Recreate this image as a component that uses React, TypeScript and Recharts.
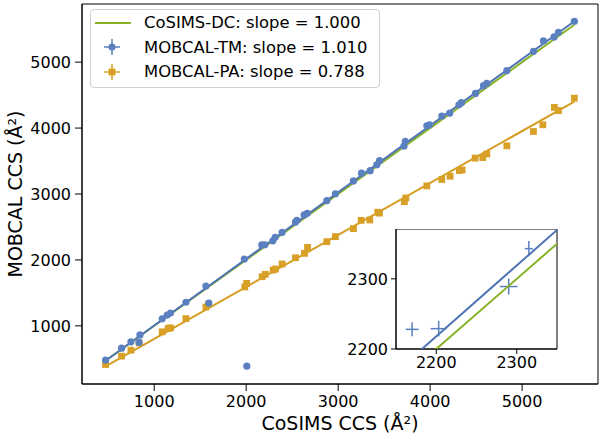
import { ScatterChart, Scatter, XAxis, YAxis, ReferenceArea, ErrorBar } from 'recharts';

// MOBCAL-TM (blue circles)
const tmX = [471, 645, 747, 835, 845, 1087, 1141, 1177, 1345, 1562, 1594, 1980, 2007, 2170, 2203, 2290, 2315, 2391, 2536, 2551, 2630, 2665, 2877, 2970, 3166, 3254, 3348, 3420, 3450, 3715, 3730, 3964, 3993, 4127, 4213, 4313, 4340, 4493, 4580, 4616, 4834, 5123, 5232, 5348, 5395, 5568];
const tmY = [479, 661, 757, 748, 863, 1106, 1163, 1195, 1358, 1603, 1345, 2014, 388, 2228, 2229, 2289, 2343, 2419, 2575, 2600, 2682, 2708, 2900, 3004, 3199, 3316, 3354, 3442, 3505, 3725, 3800, 4035, 4050, 4182, 4228, 4352, 4385, 4526, 4643, 4680, 4871, 5164, 5322, 5383, 5453, 5620];

// MOBCAL-PA (orange squares)
const paX = [471, 645, 747, 835, 1087, 1152, 1177, 1345, 1562, 1590, 1985, 2005, 2174, 2207, 2293, 2318, 2391, 2536, 2634, 2667, 2877, 2970, 3166, 3250, 3344, 3430, 3449, 3720, 3736, 3964, 4127, 4217, 4318, 4348, 4489, 4572, 4616, 4834, 5123, 5225, 5351, 5395, 5568];
const paY = [413, 540, 631, 742, 909, 960, 970, 1110, 1284, 1325, 1590, 1644, 1745, 1781, 1846, 1862, 1938, 2033, 2100, 2191, 2277, 2353, 2475, 2600, 2606, 2723, 2710, 2884, 2940, 3123, 3220, 3270, 3356, 3366, 3544, 3553, 3607, 3731, 3948, 4050, 4313, 4265, 4453];

// fitted lines (end points)
const dcLineX = [471, 5568];
const dcLineY = [471, 5568];
const tmLineX = [471, 5568];
const tmLineY = [471, 5621];
const paLineX = [471, 5568];
const paLineY = [386, 4403];

// error bars of the points shown in the inset
const insetXErr = [8, 10, 11, 5];
const insetYErr = [10, 11, 11.5, 11];

const mainTicks = [1000, 2000, 3000, 4000, 5000];
const insetTicks = [2200, 2300];

const GREEN = '#86b224';
const BLUE = '#5b80c0';
const BLUE_LINE = '#4f74b5';
const ORANGE = '#d8a027';
const ORANGE_LINE = '#d59d22';
const FONT = 'DejaVu Sans, sans-serif';

const zip = (xs: number[], ys: number[]) => xs.map((x, i) => ({ x, y: ys[i] }));

const tmData = zip(tmX, tmY);
const paData = zip(paX, paY);
const dcLine = zip(dcLineX, dcLineY);
const tmLine = zip(tmLineX, tmLineY);
const paLine = zip(paLineX, paLineY);

const insetData = tmData
  .filter((p) => p.x > 2150 && p.x < 2350 && p.y > 2200 && p.y < 2371)
  .map((p, i) => ({ ...p, ex: insetXErr[i], ey: insetYErr[i] }));

const noShape = () => <g />;

const Square = (props: any) => {
  const { cx, cy } = props;
  return <rect x={cx - 3.4} y={cy - 3.4} width={6.8} height={6.8} fill={ORANGE} />;
};

const Dot = (props: any) => {
  const { cx, cy } = props;
  return <circle cx={cx} cy={cy} r={3.6} fill={BLUE} />;
};

const tickStyle = { fontSize: 16, fill: '#000', fontFamily: FONT };

function LegendBox() {
  const row = { display: 'flex', alignItems: 'center', height: 24.5 };
  const icon = (kind: 'line' | 'dot' | 'sq') => (
    <svg width={53} height={24} style={{ flex: 'none' }}>
      {kind === 'line' && <line x1={4} x2={40} y1={12} y2={12} stroke={GREEN} strokeWidth={2} />}
      {kind !== 'line' && (
        <g stroke={kind === 'dot' ? BLUE : ORANGE} strokeWidth={1.5}>
          <line x1={13} x2={29} y1={12} y2={12} />
          <line x1={21} x2={21} y1={4} y2={20} />
        </g>
      )}
      {kind === 'dot' && <circle cx={21} cy={12} r={3.6} fill={BLUE} />}
      {kind === 'sq' && <rect x={17.6} y={8.6} width={6.8} height={6.8} fill={ORANGE} />}
    </svg>
  );
  return (
    <div
      style={{
        position: 'absolute',
        left: 90,
        top: 9,
        width: 290,
        height: 79,
        border: '1px solid #d0d0d0',
        borderRadius: 4,
        background: 'rgba(255,255,255,0.8)',
        fontFamily: FONT,
        fontSize: 16.4,
        color: '#000',
        boxSizing: 'border-box',
        paddingTop: 0.5,
        whiteSpace: 'nowrap',
      }}
    >
      <div style={row}>{icon('line')}<span>CoSIMS-DC: slope = 1.000</span></div>
      <div style={row}>{icon('dot')}<span>MOBCAL-TM: slope = 1.010</span></div>
      <div style={row}>{icon('sq')}<span>MOBCAL-PA: slope = 0.788</span></div>
    </div>
  );
}

export default function App() {
  return (
    <div style={{ position: 'absolute', left: 0, top: 0, width: 600, height: 437, background: '#fff' }}>
      <ScatterChart width={600} height={437} margin={{ top: 4, right: 2, bottom: 0, left: 0 }}>
        <XAxis
          type="number"
          dataKey="x"
          domain={[215, 5825]}
          allowDataOverflow
          ticks={mainTicks}
          height={53}
          tick={tickStyle}
          tickSize={7}
          tickMargin={5}
          stroke="#000"
          label={{ value: 'CoSIMS CCS (Å²)', position: 'insideBottom', offset: 7, style: { fontSize: 19, fill: '#000', fontFamily: FONT } }}
        />
        <YAxis
          type="number"
          dataKey="y"
          domain={[118, 5882]}
          allowDataOverflow
          ticks={mainTicks}
          width={82}
          tick={tickStyle}
          tickSize={7}
          tickMargin={4}
          stroke="#000"
          label={{ value: 'MOBCAL CCS (Å²)', angle: -90, position: 'insideLeft', offset: 15, style: { fontSize: 19, fill: '#000', fontFamily: FONT, textAnchor: 'middle' } }}
        />
        <ReferenceArea x1={215} x2={5825} y1={118} y2={5882} fill="none" stroke="#000" strokeWidth={1} />
        <Scatter data={dcLine} line={{ stroke: GREEN, strokeWidth: 2 }} shape={noShape} isAnimationActive={false} legendType="none" />
        <Scatter data={tmLine} line={{ stroke: BLUE_LINE, strokeWidth: 2 }} shape={noShape} isAnimationActive={false} legendType="none" />
        <Scatter data={paLine} line={{ stroke: ORANGE_LINE, strokeWidth: 2 }} shape={noShape} isAnimationActive={false} legendType="none" />
        <Scatter data={paData} shape={Square} isAnimationActive={false} />
        <Scatter data={tmData} shape={Dot} isAnimationActive={false} />
      </ScatterChart>

      <div style={{ position: 'absolute', left: 346, top: 229 }}>
        <ScatterChart width={212} height={150} margin={{ top: 0, right: 1, bottom: 0, left: 0 }}>
          <XAxis
            type="number"
            dataKey="x"
            domain={[2150, 2350]}
            allowDataOverflow
            ticks={insetTicks}
            height={30}
            tick={tickStyle}
            tickSize={5}
            tickMargin={3}
            stroke="#000"
          />
          <YAxis
            type="number"
            dataKey="y"
            domain={[2200, 2371]}
            allowDataOverflow
            ticks={insetTicks}
            width={50}
            tick={tickStyle}
            tickSize={5}
            tickMargin={3}
            stroke="#000"
          />
          <ReferenceArea x1={2150} x2={2350} y1={2200} y2={2371} fill="#fff" fillOpacity={1} stroke="#000" strokeWidth={1} />
          <Scatter data={dcLine} line={{ stroke: GREEN, strokeWidth: 2 }} shape={noShape} isAnimationActive={false} />
          <Scatter data={tmLine} line={{ stroke: BLUE_LINE, strokeWidth: 2 }} shape={noShape} isAnimationActive={false} />
          <Scatter data={insetData} shape={noShape} isAnimationActive={false}>
            <ErrorBar dataKey="ex" direction="x" width={0} stroke={BLUE} strokeWidth={1.5} isAnimationActive={false} />
            <ErrorBar dataKey="ey" direction="y" width={0} stroke={BLUE} strokeWidth={1.5} isAnimationActive={false} />
          </Scatter>
        </ScatterChart>
      </div>

      <LegendBox />
    </div>
  );
}
